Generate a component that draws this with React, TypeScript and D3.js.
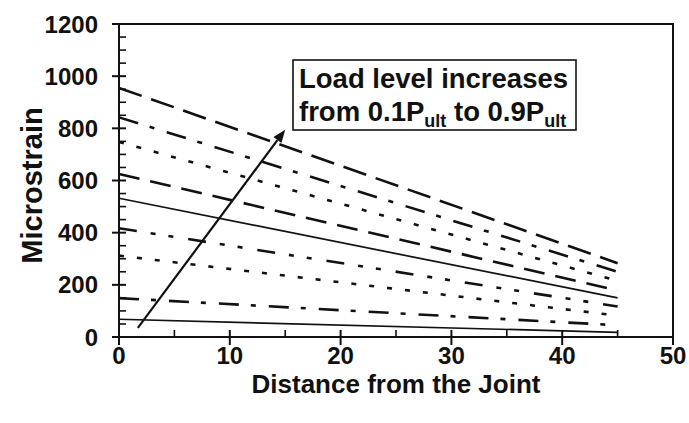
import React from "react";
import * as d3 from "d3";

// Data
const distances = [0, 45];
const loadLevels = ["0.1", "0.2", "0.3", "0.4", "0.5", "0.6", "0.7", "0.8", "0.9"];
const strainStart = [68, 149, 312, 417, 532, 625, 748, 842, 955];
const strainEnd = [18, 45, 82, 117, 150, 178, 215, 250, 283];
const xTicks = [0, 10, 20, 30, 40, 50];
const yTicks = [0, 200, 400, 600, 800, 1000, 1200];
const arrowFrom = { x: 1.7, y: 35 };
const arrowTo = { x: 15.0, y: 795 };

const dashes = [
  null,
  "20,12,5,13",
  "5,13",
  "18,14,5,13,5,15",
  null,
  "21,11",
  "5,13",
  "20,12,5,13",
  "24,10",
];

const W = 689;
const H = 423;
const L = 119, R = 673, T = 24, B = 337;
const FONT = "'Liberation Sans', Arial, sans-serif";

export default function App() {
  const x = d3.scaleLinear().domain([0, 50]).range([L, R]);
  const y = d3.scaleLinear().domain([0, 1200]).range([B, T]);
  const line = d3
    .line<[number, number]>()
    .x((d) => x(d[0]))
    .y((d) => y(d[1]));

  const xMinor = d3.range(5, 50, 10);
  const yMinor = d3.range(0, 1200, 50).filter((v) => v % 200 !== 0);

  const ax = x(arrowFrom.x), ay = y(arrowFrom.y);
  const bx = x(arrowTo.x), by = y(arrowTo.y);
  const ang = Math.atan2(by - ay, bx - ax);
  const hl = 13, hw = 5;
  const baseX = bx - hl * Math.cos(ang), baseY = by - hl * Math.sin(ang);
  const head = [
    [bx, by],
    [baseX + hw * Math.sin(ang), baseY - hw * Math.cos(ang)],
    [baseX - hw * Math.sin(ang), baseY + hw * Math.cos(ang)],
  ];

  return (
    <div style={{ position: "fixed", left: 0, top: 0 }}>
      <svg width={W} height={H} style={{ display: "block", background: "#fff" }}>
        <rect x={0} y={0} width={W} height={H} fill="#fff" />
        {/* series */}
        {loadLevels.map((lv, i) => {
          const pts: [number, number][] = distances.map((d, j) => [d, j === 0 ? strainStart[i] : strainEnd[i]]);
          const dash = dashes[i];
          return (
            <path
              key={lv}
              d={line(pts) || ""}
              fill="none"
              stroke="#111"
              strokeWidth={dash ? 2.6 : 1.7}
              strokeDasharray={dash || undefined}
            />
          );
        })}
        {/* frame */}
        <rect x={L} y={T} width={R - L} height={B - T} fill="none" stroke="#111" strokeWidth={2} />
        {/* y ticks */}
        {yTicks.map((v) => (
          <line key={"yt" + v} x1={L - 7} x2={L + 7} y1={y(v)} y2={y(v)} stroke="#111" strokeWidth={2} />
        ))}
        {yMinor.map((v) => (
          <line key={"ym" + v} x1={L} x2={L + 7} y1={y(v)} y2={y(v)} stroke="#111" strokeWidth={1.6} />
        ))}
        {/* x ticks */}
        {xTicks.map((v) => (
          <line key={"xt" + v} x1={x(v)} x2={x(v)} y1={B - 7} y2={B + 8} stroke="#111" strokeWidth={2} />
        ))}
        {xMinor.map((v) => (
          <line key={"xm" + v} x1={x(v)} x2={x(v)} y1={B - 7} y2={B} stroke="#111" strokeWidth={1.6} />
        ))}
        {/* tick labels */}
        {yTicks.map((v) => (
          <text key={"yl" + v} x={L - 21} y={y(v)} dy="0.36em" textAnchor="end" fontFamily={FONT} fontWeight="bold" fontSize={24} fill="#111">
            {v}
          </text>
        ))}
        {xTicks.map((v) => (
          <text key={"xl" + v} x={x(v)} y={B + 27} textAnchor="middle" fontFamily={FONT} fontWeight="bold" fontSize={24} fill="#111">
            {v}
          </text>
        ))}
        {/* axis titles */}
        <text x={396} y={B + 56} textAnchor="middle" fontFamily={FONT} fontWeight="bold" fontSize={26} fill="#111">
          Distance from the Joint
        </text>
        <text transform={`translate(42,${(T + B) / 2 + 5}) rotate(-90)`} textAnchor="middle" fontFamily={FONT} fontWeight="bold" fontSize={29} fill="#111">
          Microstrain
        </text>
        {/* arrow */}
        <line x1={ax} y1={ay} x2={baseX} y2={baseY} stroke="#111" strokeWidth={2.2} />
        <polygon points={head.map((p) => p.join(",")).join(" ")} fill="#111" />
        {/* annotation box */}
        <rect x={293} y={60} width={283} height={70} fill="#fff" stroke="#111" strokeWidth={1.6} />
        <text x={299} y={88} fontFamily={FONT} fontWeight="bold" fontSize={27.5} fill="#111">
          Load level increases
        </text>
        <text x={299} y={121} fontFamily={FONT} fontWeight="bold" fontSize={27.5} fill="#111">
          <tspan>from 0.1P</tspan>
          <tspan fontSize={18} dy={6}>ult</tspan>
          <tspan dy={-6}> to 0.9P</tspan>
          <tspan fontSize={18} dy={6}>ult</tspan>
        </text>
      </svg>
    </div>
  );
}
